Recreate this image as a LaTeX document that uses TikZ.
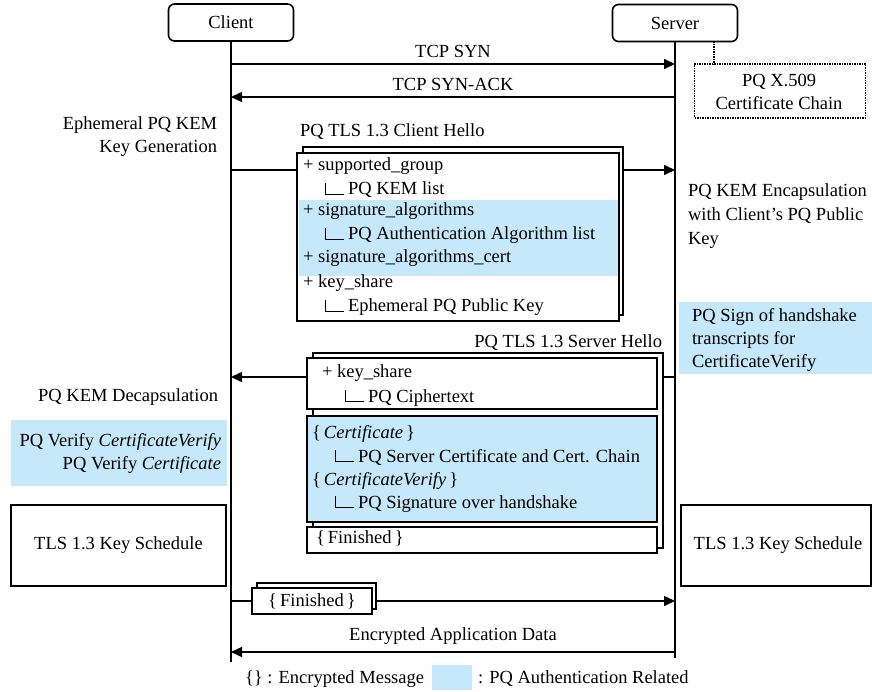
\documentclass[tikz,border=0pt]{standalone}
\usepackage{fontspec}
\setmainfont{Liberation Serif}
\usetikzlibrary{arrows.meta}
\definecolor{pqblue}{RGB}{197,233,250}
\newcommand{\elb}{\rule{1pt}{12pt}\rule{18pt}{1pt}\hspace{4pt}}
\begin{document}
\begin{tikzpicture}[x=1pt,y=-1pt,
  every node/.style={font=\fontsize{18.5}{23}\selectfont, inner sep=0pt, outer sep=0pt},
  actor/.style={draw, rounded corners=6pt, line width=1.6pt, minimum width=125pt, minimum height=37pt},
  life/.style={line width=1.5pt},
  msg/.style={line width=1.5pt, -{Triangle[length=11pt,width=10pt]}},
  seg/.style={line width=1.5pt},
  frame/.style={draw, line width=1.5pt, fill=white},
  hlbox/.style={fill=pqblue},
  plainbox/.style={draw, line width=1.3pt},
  dotbox/.style={draw, line width=1.5pt, densely dotted},
  ]
\useasboundingbox (0,0) rectangle (872,692);

% actors
\node[actor] (client) at (231,22.5) {Client};
\node[actor] (server) at (675,23) {Server};
\coordinate (cEnd) at (231,662);
\coordinate (sEnd) at (675,658);
\draw[life] (client.south) -- (cEnd);
\draw[life] (server.south) -- (sEnd);

% certificate chain
\node[dotbox, minimum width=171pt, minimum height=54pt] (cert) at (780,91) {};
\coordinate (certTop) at (714,64.6);
\coordinate (srvBot) at (714,41.5);
\draw[line width=1.5pt, densely dotted] (srvBot) -- (certTop);
\node[anchor=base] (certT1) at (779,87) {PQ X.509};
\node[anchor=base] (certT2) at (779,110) {Certificate Chain};

% TCP
\coordinate (c1) at (231,64); \coordinate (s1) at (675,64);
\coordinate (c2) at (231,97); \coordinate (s2) at (675,97);
\draw[msg] (c1) -- (s1);
\draw[msg] (s2) -- (c2);
\node[anchor=base] (tsyn) at (453,58) {TCP SYN};
\node[anchor=base] (tsynack) at (453,91) {TCP SYN-ACK};

% client side labels
\node[anchor=base east] (eph1) at (217,130) {Ephemeral PQ KEM};
\node[anchor=base east] (eph2) at (217,153) {Key Generation};

% Client Hello
\node[anchor=base west] (chT) at (300,137) {PQ TLS 1.3 Client Hello};
\node[frame, minimum width=320pt, minimum height=168pt] (chB) at (463,231) {};
\node[frame, minimum width=322pt, minimum height=168pt] (chF) at (458,237) {};
\node[hlbox, minimum width=319pt, minimum height=76pt] (chHL) at (458,238) {};
\node[anchor=base west] (ch1) at (303,171) {+ supported\_group};
\node[anchor=base west] (ch2) at (325,195) {\elb PQ KEM list};
\node[anchor=base west] (ch3) at (303,216) {+ signature\_algorithms};
\node[anchor=base west] (ch4) at (325,240) {\elb PQ Authentication Algorithm list};
\node[anchor=base west] (ch5) at (303,263) {+ signature\_algorithms\_cert};
\node[anchor=base west] (ch6) at (303,288) {+ key\_share};
\node[anchor=base west] (ch7) at (325,312) {\elb Ephemeral PQ Public Key};
\coordinate (c3) at (231,170); \coordinate (s3) at (675,170);
\draw[seg] (c3) -- (chF.west |- c3);
\draw[msg] (chB.east |- c3) -- (s3);

% server side labels
\node[anchor=base west] (enc1) at (688,197) {PQ KEM Encapsulation};
\node[anchor=base west] (enc2) at (688,221) {with Client’s PQ Public};
\node[anchor=base west] (enc3) at (688,245) {Key};
\node[hlbox, minimum width=193pt, minimum height=72pt] (signHL) at (775.5,338) {};
\node[anchor=base west] (sg1) at (692,321) {PQ Sign of handshake};
\node[anchor=base west] (sg2) at (692,344) {transcripts for};
\node[anchor=base west] (sg3) at (692,367) {CertificateVerify};

% Server Hello
\node[anchor=base east] (shT) at (662,347) {PQ TLS 1.3 Server Hello};
\node[frame, minimum width=350pt, minimum height=195pt] (shB) at (488,450.5) {};
\node[frame, minimum width=350pt, minimum height=51pt] (sh1) at (482,383.5) {};
\node[frame, fill=pqblue, minimum width=350pt, minimum height=106pt] (sh2) at (482,469) {};
\node[frame, minimum width=350pt, minimum height=26pt] (sh3) at (482,540) {};
\node[anchor=base west] (sht1) at (322,377) {+ key\_share};
\node[anchor=base west] (sht2) at (345,402) {\elb PQ Ciphertext};
\node[anchor=base west] (sht3) at (312,438) {\{\,\textit{Certificate}\,\}};
\node[anchor=base west] (sht4) at (335,462) {\elb PQ Server Certificate and Cert. Chain};
\node[anchor=base west] (sht5) at (312,485) {\{\,\textit{CertificateVerify}\,\}};
\node[anchor=base west] (sht6) at (335,508) {\elb PQ Signature over handshake};
\node[anchor=base west] (sht7) at (316,543) {\{\,Finished\,\}};
\coordinate (c4) at (231,377); \coordinate (s4) at (675,377);
\draw[seg] (s4) -- (shB.east |- s4);
\draw[msg] (sh1.west |- s4) -- (c4);

% client side after server hello
\node[anchor=base east] (dec) at (218,401) {PQ KEM Decapsulation};
\node[hlbox, minimum width=216pt, minimum height=66pt] (verHL) at (119,453) {};
\node[anchor=base east] (ver1) at (221,446) {PQ Verify \textit{CertificateVerify}};
\node[anchor=base east] (ver2) at (221,469) {PQ Verify \textit{Certificate}};

% key schedules
\node[plainbox, minimum width=215pt, minimum height=81pt] (ksC) at (118.5,545.5) {TLS 1.3 Key Schedule};
\node[plainbox, minimum width=190pt, minimum height=81pt] (ksS) at (776,545.5) {\hspace{4pt}TLS 1.3 Key Schedule};

% client Finished
\node[frame, minimum width=119pt, minimum height=26pt] (finB) at (316.5,596) {};
\node[frame, minimum width=120pt, minimum height=26pt] (finF) at (312,601) {\{\,Finished\,\}};
\coordinate (c5) at (231,601); \coordinate (s5) at (675,601);
\draw[seg] (c5) -- (finF.west |- c5);
\draw[msg] (finB.east |- c5) -- (s5);

% application data
\coordinate (c6) at (231,652); \coordinate (s6) at (675,652);
\draw[msg] (s6) -- (c6);
\node[anchor=base] (app) at (453,640) {Encrypted Application Data};

% legend
\node[anchor=base west] (leg1) at (245,683) {\{\} : Encrypted Message};
\node[hlbox, minimum width=40pt, minimum height=25pt] (legSq) at (452,677.5) {};
\node[anchor=base west] (leg2) at (478,683) {: PQ Authentication Related};
\end{tikzpicture}
\end{document}
